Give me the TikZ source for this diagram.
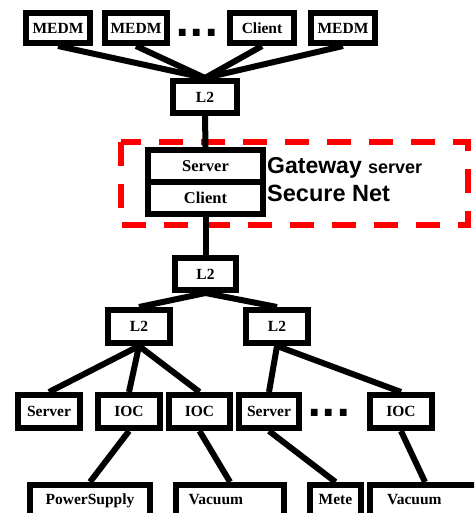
\documentclass[tikz,border=0pt]{standalone}
\usepackage{fontspec}
\setmainfont{Liberation Serif}
\newfontfamily\gwfont{Liberation Sans}
\newfontfamily\dotfont{DejaVu Sans}
\definecolor{GateRed}{HTML}{FF0000}

\begin{document}
\begin{tikzpicture}[x=1pt,y=-1pt,
    netbox/.style={draw,line width=6pt,inner sep=0pt,minimum height=32pt,
      font=\fontsize{15.5}{16}\selectfont\bfseries},
    cutbox/.style={netbox,anchor=north,text height=19.5pt,text depth=40pt},
    link/.style={line width=6pt},
    more/.style={anchor=base west,inner sep=0pt,text height=8pt,text depth=0pt,
      font=\dotfont\fontsize{38}{38}\selectfont\bfseries}]
  \useasboundingbox (0,0) rectangle (474,513);
  \clip (0,0) rectangle (474,513);

  \node[netbox,minimum width=64pt,minimum height=30pt] (medmA) at (58,28) {MEDM};
  \node[netbox,minimum width=62pt,minimum height=30pt] (medmB) at (136,28) {MEDM};
  \node[more] (dotsTop) at (175,37) {...};
  \node[netbox,minimum width=64pt,minimum height=30pt] (clientA) at (262,28) {Client};
  \node[netbox,minimum width=64pt,minimum height=30pt] (medmC) at (343,28) {MEDM};
  \node[netbox,minimum width=64pt] (swTop) at (205,97) {L2};

  \node[netbox,minimum width=115pt,minimum height=32pt,font=\fontsize{16.5}{17}\selectfont\bfseries]
    (gwServer) at (205.5,166) {Server};
  \node[netbox,minimum width=115pt,minimum height=32pt,font=\fontsize{16.5}{17}\selectfont\bfseries]
    (gwClient) at (205.5,198) {Client};
  \node[anchor=base west,inner sep=0pt,font=\gwfont\bfseries\fontsize{23}{24}\selectfont]
    (gwTitle) at (267,173) {Gateway {\fontsize{18}{19}\selectfont server}};
  \node[anchor=base west,inner sep=0pt,font=\gwfont\bfseries\fontsize{23.5}{24}\selectfont]
    (gwNet) at (267,201) {Secure Net};
  \draw[GateRed,line width=6pt,dash pattern=on 24pt off 18pt] (121,142) rectangle (468,225);

  \node[netbox,minimum width=61pt] (swMid) at (205.5,274) {L2};
  \node[netbox,minimum width=62pt,minimum height=33pt] (swLeft) at (139,326.5) {L2};
  \node[netbox,minimum width=62pt,minimum height=33pt] (swRight) at (277,326.5) {L2};

  \node[netbox,minimum width=62pt,minimum height=33pt] (serverA) at (49,411.5) {Server};
  \node[netbox,minimum width=62pt,minimum height=33pt] (iocA) at (129,411.5) {IOC};
  \node[netbox,minimum width=61pt,minimum height=33pt] (iocB) at (199.5,411.5) {IOC};
  \node[netbox,minimum width=60pt,minimum height=33pt] (serverB) at (269,411.5) {Server};
  \node[more] (dotsLow) at (307,416) {...};
  \node[netbox,minimum width=62pt,minimum height=33pt] (iocC) at (401,411.5) {IOC};

  \node[cutbox,minimum width=120pt] (power) at (90,482) {PowerSupply};
  \node[cutbox,text width=83pt,inner xsep=12.5pt,align=left] (vacA) at (230,482) {Vacuum};
  \node[cutbox,minimum width=51pt] (mete) at (335.5,482) {Mete};
  \node[cutbox,text width=76pt,inner xsep=17.5pt,align=left] (vacB) at (425,482) {Vacuum};

  \foreach \n in {medmA,medmB,clientA,medmC}
    \draw[link] (\n.south) -- (swTop.north);
  \draw[link] (swTop.south) -- (gwServer.north);
  \draw[link] (gwClient.south) -- (swMid.north);
  \draw[link] (swMid.south) -- (swLeft.north);
  \draw[link] (swMid.south) -- (swRight.north);
  \foreach \n in {serverA,iocA,iocB}
    \draw[link] (swLeft.south) -- (\n.north);
  \foreach \n in {serverB,iocC}
    \draw[link] (swRight.south) -- (\n.north);
  \draw[link] (iocA.south) -- (power.north);
  \draw[link] (iocB.south) -- (vacA.north);
  \draw[link] (serverB.south) -- (mete.north);
  \draw[link] (iocC.south) -- (vacB.north);
\end{tikzpicture}
\end{document}
